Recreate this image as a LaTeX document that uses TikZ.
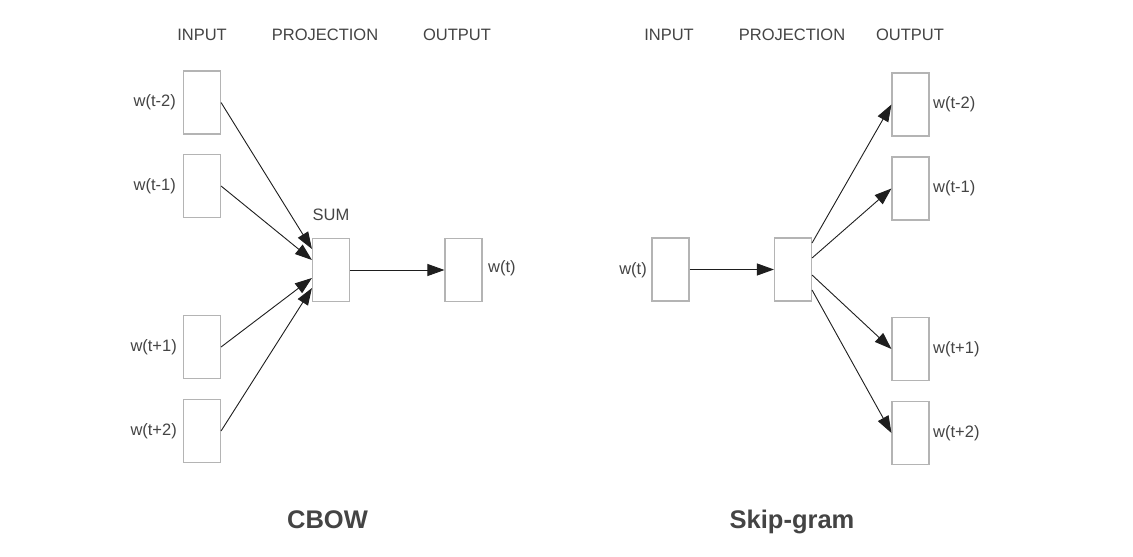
\documentclass[tikz,border=0pt]{standalone}
\usepackage{fontspec}
\setmainfont{Liberation Sans}
\usetikzlibrary{arrows.meta}
\definecolor{boxgray}{HTML}{B4B4B4}
\definecolor{txtgray}{HTML}{444444}
\definecolor{linecol}{HTML}{1E1E1E}
\tikzset{
  wbox/.style={draw=boxgray, line width=1.1pt, minimum width=37pt, minimum height=63pt, inner sep=0pt, fill=white},
  lbl/.style={text=txtgray, font=\fontsize{16.5}{19}\selectfont, inner sep=0pt},
  hdr/.style={text=txtgray, font=\fontsize{16.5}{19}\selectfont, inner sep=0pt},
  ttl/.style={text=txtgray, font=\fontsize{25.5}{30}\selectfont\bfseries, inner sep=0pt, anchor=base},
  conn/.style={draw=linecol, line width=0.9pt, -{Triangle[length=17pt,width=12pt]}},
}
\begin{document}
\begin{tikzpicture}[x=1pt,y=-1pt]
\useasboundingbox[fill=white] (0,0) rectangle (1133,557);
% ---------- CBOW ----------
\node[hdr] (h1) at (202,35) {INPUT};
\node[hdr] (h2) at (325,35) {PROJECTION};
\node[hdr] (h3) at (457,35) {OUTPUT};

\node[wbox] (i1) at (202,102.5) {};
\node[wbox] (i2) at (202,186) {};
\node[wbox] (i3) at (202,347) {};
\node[wbox] (i4) at (202,431) {};
\node[lbl, anchor=east] (li1) at (176,102.5) {w(t-2)};
\node[lbl, anchor=east] (li2) at (176,186) {w(t-1)};
\node[lbl, anchor=east] (li3) at (177,347) {w(t+1)};
\node[lbl, anchor=east] (li4) at (177,431) {w(t+2)};

\node[wbox] (sum) at (331,270) {};
\node[hdr] (sumlbl) at (331,215) {SUM};
\node[wbox] (out) at (463.5,270) {};
\node[lbl, anchor=west] (lout) at (488,268) {w(t)};

\draw[conn] (i1.east) -- ([yshift=21pt]sum.west);
\draw[conn] (i2.east) -- ([yshift=10pt]sum.west);
\draw[conn] (i3.east) -- ([yshift=-8pt]sum.west);
\draw[conn] (i4.east) -- ([yshift=-18pt]sum.west);
\draw[conn] (sum.east) -- (out.west);

\node[ttl] (cbow) at (327.5,528) {CBOW};

% ---------- Skip-gram ----------
\node[hdr] (g1) at (669,35) {INPUT};
\node[hdr] (g2) at (792,35) {PROJECTION};
\node[hdr] (g3) at (910,35) {OUTPUT};

\node[wbox] (win) at (670.5,269.5) {};
\node[lbl, anchor=east] (lwin) at (647,270) {w(t)};
\node[wbox] (proj) at (793,269.5) {};

\node[wbox] (o1) at (910.5,104.5) {};
\node[wbox] (o2) at (910.5,188.5) {};
\node[wbox] (o3) at (910.5,349) {};
\node[wbox] (o4) at (910.5,433) {};
\node[lbl, anchor=west] (lo1) at (933,104.5) {w(t-2)};
\node[lbl, anchor=west] (lo2) at (933,188.5) {w(t-1)};
\node[lbl, anchor=west] (lo3) at (933,349) {w(t+1)};
\node[lbl, anchor=west] (lo4) at (933,433) {w(t+2)};

\draw[conn] (win.east) -- (proj.west);
\draw[conn] ([yshift=26.5pt]proj.east) -- (o1.west);
\draw[conn] ([yshift=11.5pt]proj.east) -- (o2.west);
\draw[conn] ([yshift=-5.5pt]proj.east) -- (o3.west);
\draw[conn] ([yshift=-20.5pt]proj.east) -- (o4.west);

\node[ttl] (skip) at (792,528) {Skip-gram};
\end{tikzpicture}
\end{document}
